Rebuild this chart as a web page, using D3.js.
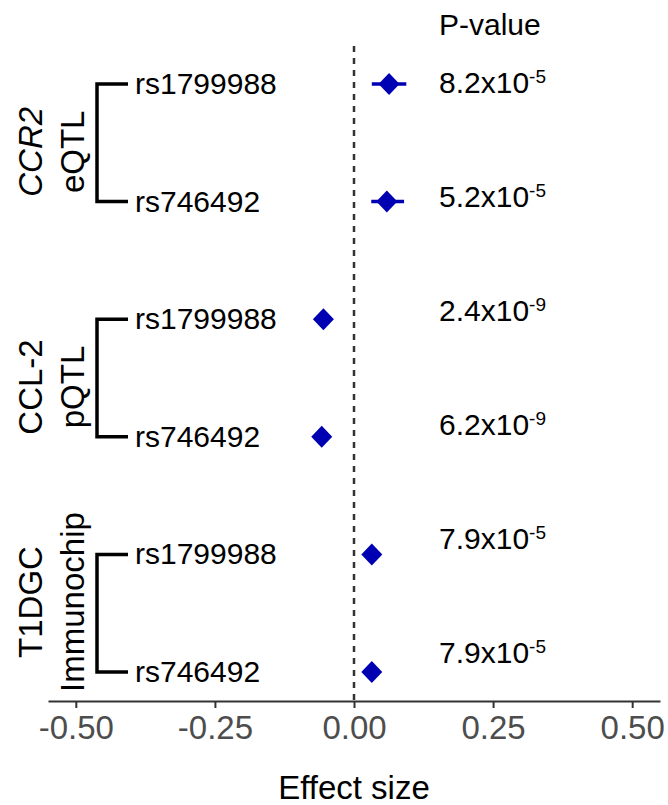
<!DOCTYPE html>
<html>
<head>
<meta charset="utf-8">
<script src="https://cdn.jsdelivr.net/npm/d3@7"></script>
<style>
  body { margin: 0; background: #fff; }
  svg { display: block; font-family: "Liberation Sans", Arial, sans-serif; }
</style>
</head>
<body>
<svg id="chart"></svg>
<script>
"use strict";

// /////// DATA

const groupTop = ["CCR2", "CCL-2", "T1DGC"];
const groupBottom = ["eQTL", "pQTL", "Immunochip"];
const groupItalic = [true, false, false];

const snps = ["rs1799988", "rs746492", "rs1799988", "rs746492", "rs1799988", "rs746492"];
const rowGroup = [0, 0, 1, 1, 2, 2];

const effect = [0.063, 0.059, -0.055, -0.058, 0.032, 0.032];
const ciLow = [0.032, 0.031, -0.06, -0.063, 0.028, 0.028];
const ciHigh = [0.094, 0.09, -0.05, -0.053, 0.036, 0.036];

const pMantissa = ["8.2", "5.2", "2.4", "6.2", "7.9", "7.9"];
const pExponent = ["-5", "-5", "-9", "-9", "-5", "-5"];

const xTicks = [-0.5, -0.25, 0, 0.25, 0.5];

// /////// CHART

const width = 668;
const height = 805;
const blue = "#0000b3";

const svg = d3.select("#chart").attr("width", width).attr("height", height);

const rows = d3.range(snps.length);

const x = d3.scaleLinear().domain([-0.55, 0.55]).range([48, 660]);
const y = d3.scalePoint().domain(rows).range([84, 672]);
// P-value column sits on its own slightly tighter spacing
const yP = d3.scalePoint().domain(rows).range([93, 663]);

const axisY = 701;

// Zero reference line
svg
  .append("line")
  .attr("x1", x(0))
  .attr("x2", x(0))
  .attr("y1", 46)
  .attr("y2", axisY)
  .attr("stroke", "#333")
  .attr("stroke-width", 2.5)
  .attr("stroke-dasharray", "6,6");

// X axis
const xAxis = d3
  .axisBottom(x)
  .tickValues(xTicks)
  .tickSize(7)
  .tickSizeOuter(0)
  .tickPadding(8);

const gx = svg
  .append("g")
  .attr("transform", `translate(0, ${axisY})`)
  .call(xAxis);

gx.select(".domain").attr("stroke", "#333").attr("stroke-width", 2);
gx.selectAll(".tick line").attr("stroke", "#333").attr("stroke-width", 2);
gx.selectAll(".tick text")
  .attr("fill", "#4d4d4d")
  .style("font-size", "33px")
  .style("font-family", "'Liberation Sans', Arial, sans-serif")
  .text((d) => (d < 0 ? "-" : "") + d3.format(".2f")(Math.abs(d)));

svg
  .append("text")
  .attr("x", x(0))
  .attr("y", 799)
  .attr("text-anchor", "middle")
  .style("font-size", "33px")
  .attr("fill", "#000")
  .text("Effect size");

// Confidence intervals
svg
  .selectAll(".ci")
  .data(rows)
  .join("line")
  .attr("class", "ci")
  .attr("x1", (i) => x(ciLow[i]))
  .attr("x2", (i) => x(ciHigh[i]))
  .attr("y1", (i) => y(i))
  .attr("y2", (i) => y(i))
  .attr("stroke", blue)
  .attr("stroke-width", 3.5);

// Diamonds
svg
  .selectAll(".point")
  .data(rows)
  .join("path")
  .attr("class", "point")
  .attr("d", (i) => {
    const cx = x(effect[i]);
    const cy = y(i);
    return `M${cx - 10.5},${cy}L${cx},${cy - 11}L${cx + 10.5},${cy}L${cx},${cy + 11}Z`;
  })
  .attr("fill", blue);

// SNP labels
svg
  .selectAll(".snp")
  .data(rows)
  .join("text")
  .attr("class", "snp")
  .attr("x", 135)
  .attr("y", (i) => y(i) + 10)
  .style("font-size", "30px")
  .attr("fill", "#000")
  .text((i) => snps[i]);

// Brackets + group labels
groupTop.forEach((name, g) => {
  const members = rows.filter((i) => rowGroup[i] === g);
  const top = y(members[0]);
  const bottom = y(members[members.length - 1]);

  svg
    .append("path")
    .attr("d", `M128,${top}H97V${bottom}H128`)
    .attr("fill", "none")
    .attr("stroke", "#000")
    .attr("stroke-width", 3.5);

  // keep long labels clear of the axis
  const mid = Math.min((top + bottom) / 2 + 9, 697 - groupBottom[g].length * 9.5);

  svg
    .append("text")
    .attr("transform", `translate(42, ${mid}) rotate(-90)`)
    .attr("text-anchor", "middle")
    .style("font-size", "33px")
    .style("font-style", groupItalic[g] ? "italic" : "normal")
    .attr("fill", "#000")
    .text(name);

  svg
    .append("text")
    .attr("transform", `translate(84, ${mid}) rotate(-90)`)
    .attr("text-anchor", "middle")
    .style("font-size", "33px")
    .attr("fill", "#000")
    .text(groupBottom[g]);
});

// P-value column
svg
  .append("text")
  .attr("x", 439)
  .attr("y", 35)
  .style("font-size", "30px")
  .attr("fill", "#000")
  .text("P-value");

const pText = svg
  .selectAll(".pval")
  .data(rows)
  .join("text")
  .attr("class", "pval")
  .attr("x", 439)
  .attr("y", (i) => yP(i))
  .style("font-size", "30px")
  .attr("fill", "#000");

pText.append("tspan").text((i) => `${pMantissa[i]}x10`);
pText
  .append("tspan")
  .attr("dy", -10)
  .style("font-size", "19px")
  .text((i) => pExponent[i]);
</script>
</body>
</html>
